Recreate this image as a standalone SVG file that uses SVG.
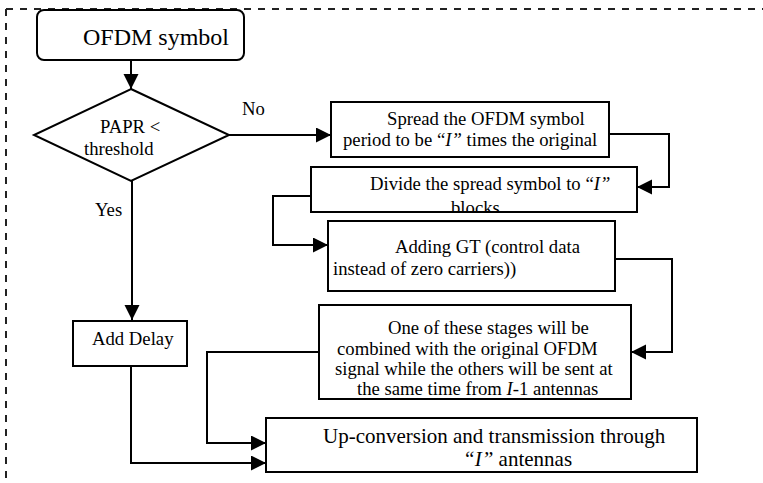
<svg xmlns="http://www.w3.org/2000/svg" width="763" height="483" viewBox="0 0 763 483">
  <style>
    .box { fill: #fff; stroke: #000; stroke-width: 2; }
    .frame { fill: none; stroke: #222; stroke-width: 2; stroke-dasharray: 7 7; }
    .wire { fill: none; stroke: #000; stroke-width: 2; }
    .arrow { marker-end: url(#head); }
    text { font-family: 'Liberation Serif', 'Times New Roman', serif; font-size: 18.7px; fill: #000; }
    .big { font-size: 24px; }
    .mid { font-size: 21px; }
    .it { font-style: italic; }
  </style>
  <defs>
    <marker id="head" markerUnits="userSpaceOnUse" markerWidth="16" markerHeight="16" refX="15" refY="7.5" orient="auto">
      <path d="M0,0 L15,7.5 L0,15 Z" fill="#000"/>
    </marker>
    <!-- second line of the "Divide" box overflows and is cut by the box edge -->
    <clipPath id="divideClip">
      <rect x="312" y="168" width="324" height="43"/>
    </clipPath>
  </defs>

  <rect width="763" height="483" fill="#fff"/>

  <!-- dashed outer frame -->
  <line class="frame" x1="6" y1="9" x2="763" y2="9"/>
  <line class="frame" x1="6" y1="9" x2="6" y2="483"/>

  <!-- connectors -->
  <g id="connectors">
    <line class="wire arrow" x1="131" y1="60" x2="131" y2="89"/>
    <line class="wire arrow" x1="229" y1="135" x2="331" y2="135"/>
    <line class="wire arrow" x1="132" y1="181" x2="132" y2="320"/>
    <polyline class="wire arrow" points="609,134 669,134 669,187 637,187"/>
    <polyline class="wire arrow" points="311,196 273,196 273,245 328,245"/>
    <polyline class="wire arrow" points="615,259 672,259 672,352 631,352"/>
    <polyline class="wire arrow" points="319,352 207,352 207,443 266,443"/>
    <polyline class="wire arrow" points="131,366 131,463 266,463"/>
    <text x="242" y="115">No</text>
    <text x="95" y="216">Yes</text>
  </g>

  <g id="ofdm-symbol">
    <rect class="box" x="37" y="10" width="207" height="50" rx="7"/>
    <text class="big" x="83" y="45">OFDM symbol</text>
  </g>

  <g id="papr-check">
    <polygon class="box" points="131,89 229,135 131,181 34,135"/>
    <text x="100" y="133">PAPR &lt;</text>
    <text x="84" y="155">threshold</text>
  </g>

  <g id="spread">
    <rect class="box" x="331" y="102" width="278" height="55"/>
    <text x="387" y="125">Spread the OFDM symbol</text>
    <text x="343" y="146">period to be “<tspan class="it">I”</tspan> times the original</text>
  </g>

  <g id="divide">
    <rect class="box" x="311" y="167" width="326" height="45"/>
    <g clip-path="url(#divideClip)">
      <text x="370" y="190">Divide the spread symbol to “<tspan class="it">I”</tspan></text>
      <text x="451" y="214">blocks</text>
    </g>
  </g>

  <g id="adding-gt">
    <rect class="box" x="328" y="221" width="287" height="70"/>
    <text x="395" y="253">Adding GT (control data</text>
    <text x="333" y="275">instead of zero carriers))</text>
  </g>

  <g id="combine">
    <rect class="box" x="319" y="305" width="312" height="94"/>
    <text x="388" y="334">One of these stages will be</text>
    <text x="337" y="355">combined with the original OFDM</text>
    <text x="335" y="375">signal while the others will be sent at</text>
    <text x="357" y="395">the same time from <tspan class="it">I</tspan>-1 antennas</text>
  </g>

  <g id="add-delay">
    <rect class="box" x="73" y="321" width="114" height="45"/>
    <text x="92" y="345">Add Delay</text>
  </g>

  <g id="transmit">
    <rect class="box" x="266" y="418" width="431" height="54"/>
    <text class="mid" x="323" y="443">Up-conversion and transmission through</text>
    <text class="mid" x="463" y="466"><tspan class="it">“I”</tspan> antennas</text>
  </g>
</svg>
